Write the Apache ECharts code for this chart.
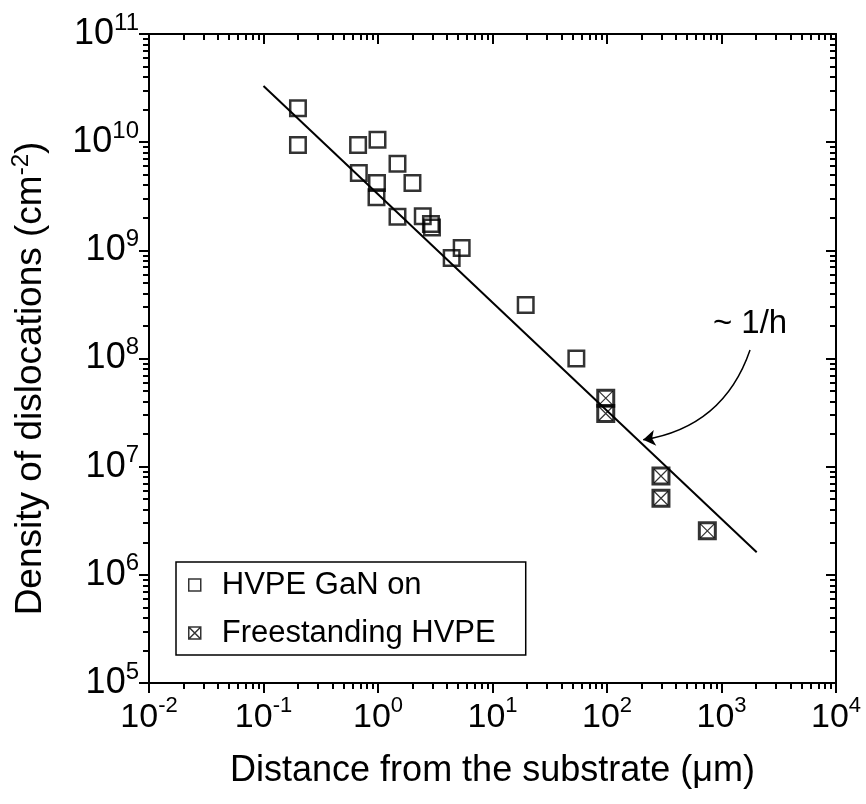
<!DOCTYPE html>
<html>
<head>
<meta charset="utf-8">
<script src="https://cdn.jsdelivr.net/npm/echarts@6/dist/echarts.min.js"></script>
<style>
  html, body { margin: 0; background: #fff; }
  #chart { width: 866px; height: 804px; }
</style>
</head>
<body>
<div id="chart"></div>
<script>
// distance from substrate (um), dislocation density (cm^-2)
const hvpeOnSubstrate = [
  [0.2, 2.06e10], [0.2, 9.4e9], [0.67, 9.4e9], [0.99, 1.05e10], [0.68, 5.2e9],
  [1.48, 6.3e9], [0.98, 4.2e9], [2.0, 4.2e9], [0.97, 3.1e9], [1.48, 2.04e9],
  [2.46, 2.07e9], [2.9, 1.75e9], [2.96, 1.63e9], [5.38, 1.05e9], [4.4, 8.5e8],
  [19.5, 3.13e8], [54, 1.0e8]
];
const freestanding = [
  [97.5, 4.3e7], [97.5, 3.1e7], [296, 8.2e6], [296, 5.1e6], [752, 2.55e6]
];
const fitLine = [[0.1, 3.3e10], [2030, 1.62e6]];
const arrowFrom = [1775, 1.2e8];
const arrowTo = [207, 1.77e7];
const noteAt = [1775, 2.09e8];
const xMajor = [0.01, 0.1, 1, 10, 100, 1000, 10000];
const yMajor = [1e5, 1e6, 1e7, 1e8, 1e9, 1e10, 1e11];

const font = 'Liberation Sans, Arial, sans-serif';
const minorOf = majors => majors.slice(0, -1).flatMap(m => [2, 3, 4, 5, 6, 7, 8, 9].map(k => k * m));
const xMinor = minorOf(xMajor);
const yMinor = minorOf(yMajor);
const powLabel = v => '{b|10}{s|' + Math.round(Math.log10(v)) + '}';

const squareIcon = 'path://M0,0L10,0L10,10L0,10Z';
const crossIcon = 'path://M0,0L10,0L10,10L0,10Z M0,0L10,10 M10,0L0,10';

function logAxis(min, max, position, ticks, len, inside, showLine, extra) {
  return Object.assign({
    type: 'log', logBase: 10, min: min, max: max, position: position,
    splitLine: { show: false },
    axisLine: { show: showLine, onZero: false, lineStyle: { color: '#000', width: 2 } },
    axisTick: { show: true, inside: inside, length: len, customValues: ticks, lineStyle: { color: '#000', width: 2 } },
    axisLabel: { show: false }
  }, extra || {});
}

const xLabel = {
  show: true, customValues: xMajor, formatter: powLabel, margin: 12, color: '#000',
  rich: {
    b: { fontSize: 34, fontFamily: font, color: '#000' },
    s: { fontSize: 22, fontFamily: font, color: '#000', padding: [0, 0, 24, 0] }
  }
};
const yLabel = {
  show: true, customValues: yMajor, formatter: powLabel, margin: 10, color: '#000',
  rich: {
    b: { fontSize: 36, fontFamily: font, color: '#000' },
    s: { fontSize: 24, fontFamily: font, color: '#000', padding: [0, 0, 22, 0] }
  }
};

const chart = echarts.init(document.getElementById('chart'));
chart.setOption({
  animation: false,
  backgroundColor: '#fff',
  grid: { left: 149, right: 30, top: 34, bottom: 121 },
  xAxis: [
    logAxis(0.01, 10000, 'bottom', xMajor, 10, false, true, {
      axisLabel: xLabel,
      name: 'Distance from the substrate (\u03bcm)', nameLocation: 'middle', nameGap: 70,
      nameTextStyle: { fontSize: 36, fontFamily: font, color: '#000' }
    }),
    logAxis(0.01, 10000, 'bottom', xMinor, 6, false, false),
    logAxis(0.01, 10000, 'top', xMajor, 10, true, true),
    logAxis(0.01, 10000, 'top', xMinor, 6, true, false)
  ],
  yAxis: [
    logAxis(1e5, 1e11, 'left', yMajor, 10, false, true, {
      axisLabel: yLabel,
      name: 'Density of dislocations (cm{s|-2})', nameLocation: 'middle', nameGap: 96,
      nameTextStyle: {
        fontSize: 37, fontFamily: font, color: '#000', padding: [0, 40, 0, 0],
        rich: { s: { fontSize: 24, fontFamily: font, color: '#000', padding: [0, 0, 20, 0] } }
      }
    }),
    logAxis(1e5, 1e11, 'left', yMinor, 6, false, false),
    logAxis(1e5, 1e11, 'right', yMajor, 10, true, true),
    logAxis(1e5, 1e11, 'right', yMinor, 6, true, false)
  ],
  legend: {
    orient: 'vertical', left: 176, top: 562,
    padding: [6, 30, 5, 12], itemGap: 14, itemWidth: 12, itemHeight: 12,
    borderColor: '#000', borderWidth: 1.5, borderRadius: 0,
    selectedMode: false,
    itemStyle: { borderWidth: 1.5 },
    textStyle: { fontSize: 31, fontFamily: font, color: '#000', lineHeight: 34, padding: [0, 0, 0, 16] },
    data: [
      { name: 'HVPE GaN on', icon: squareIcon },
      { name: 'Freestanding HVPE', icon: crossIcon }
    ]
  },
  series: [
    {
      type: 'line', data: fitLine, symbol: 'none', silent: true,
      lineStyle: { color: '#000', width: 2 },
      markPoint: {
        silent: true, animation: false, symbol: 'circle', symbolSize: 1,
        itemStyle: { color: 'transparent' },
        label: { show: true, position: 'inside', formatter: '~ 1/h', fontSize: 33, fontFamily: font, color: '#000' },
        data: [{ coord: noteAt }]
      }
    },
    {
      type: 'lines', coordinateSystem: 'cartesian2d', silent: true,
      symbol: ['none', 'arrow'], symbolSize: 12,
      lineStyle: { color: '#000', width: 1.5, opacity: 1, curveness: 0.3 },
      data: [{ coords: [arrowFrom, arrowTo] }]
    },
    {
      name: 'HVPE GaN on', type: 'scatter', data: hvpeOnSubstrate,
      symbol: 'rect', symbolSize: 15.5,
      itemStyle: { color: 'transparent', borderColor: '#000', borderWidth: 2.5 }
    },
    {
      name: 'Freestanding HVPE', type: 'scatter', data: freestanding,
      symbol: 'rect', symbolSize: 16,
      itemStyle: { color: 'transparent', borderColor: '#000', borderWidth: 3 }
    },
    {
      name: 'Freestanding HVPE', type: 'scatter', data: freestanding,
      symbol: 'path://M0,0L10,10M10,0L0,10', symbolSize: 14,
      itemStyle: { color: 'transparent', borderColor: '#000', borderWidth: 1.2 }
    }
  ]
});
</script>
</body>
</html>
